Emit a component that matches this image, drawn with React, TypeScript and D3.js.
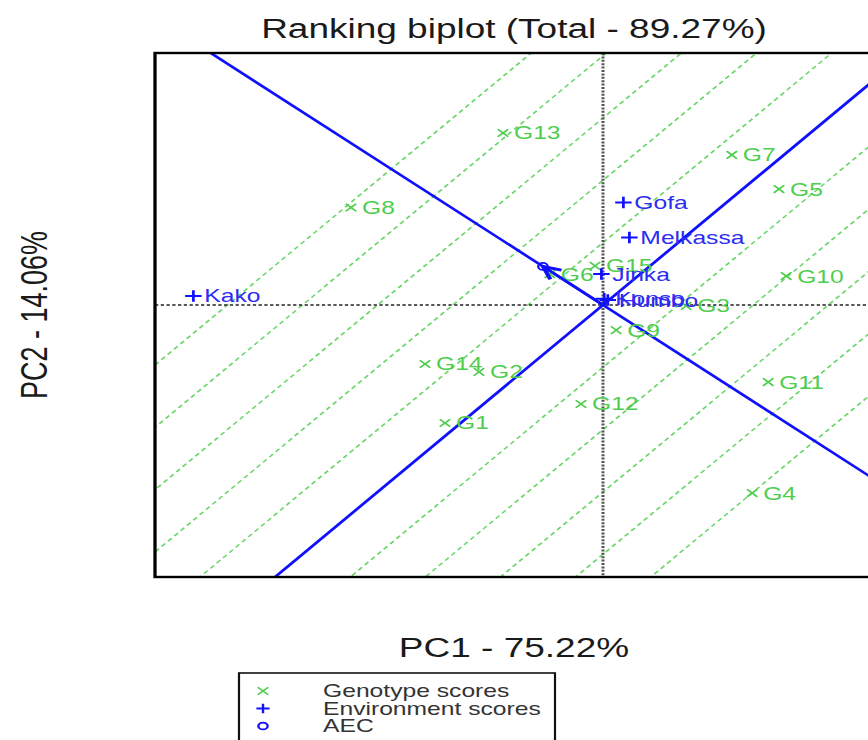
import React from "react";
import * as d3 from "d3";

// ---------- data ----------
const genotypes = ["G1", "G2", "G3", "G4", "G5", "G6", "G7", "G8", "G9", "G10", "G11", "G12", "G13", "G14", "G15"];
const genoPC1 = [-3.95, -3.1, 2.08, 3.73, 4.4, -1.33, 3.22, -6.3, 0.33, 4.58, 4.13, -0.55, -2.5, -4.45, -0.2];
const genoPC2 = [-4.04, -2.29, -0.03, -6.44, 3.97, 1.06, 5.14, 3.34, -0.86, 0.99, -2.64, -3.39, 5.89, -2.02, 1.34];

const environments = ["Gofa", "Humbo", "Jinka", "Kako", "Konso", "Melkassa"];
const envPC1 = [0.51, 0.12, -0.04, -10.24, 0.03, 0.66];
const envPC2 = [3.51, 0.17, 1.06, 0.31, 0.21, 2.31];

const aecPC1 = -1.5;
const aecPC2 = 1.32;

const contourIndex = [-5, -4, -3, -2, -1, 0, 1, 2, 3, 4, 5];
const contourStep = 1.41;

const xDomain = [-11.2, 6.75];
const yDomain = [-9.315, 8.63];

const title = "Ranking biplot (Total - 89.27%)";
const xLabel = "PC1 - 75.22%";
const yLabel = "PC2 - 14.06%";
const legendLabels = ["Genotype scores", "Environment scores", "AEC"];

// ---------- layout ----------
const W = 868;
const H = 740;
const SX = 1.37; // horizontal stretch of the original picture
const FONT = "'Liberation Sans', Arial, Helvetica, sans-serif";
const GREEN = "#4fcd4f";
const GREEN_LINE = "#6ad66a";
const BLUE = "#1010ff";
const BLUE_TEXT = "#2c2cf2";

export default function App() {
  const left = 155 / SX;
  const right = 873 / SX;
  const top = 53;
  const bottom = 577;

  const x = d3.scaleLinear().domain(xDomain).range([left, right]);
  const y = d3.scaleLinear().domain(yDomain).range([bottom, top]);

  const len = Math.hypot(aecPC1, aecPC2);
  const ux = aecPC1 / len;
  const uy = aecPC2 / len;
  const px = -uy;
  const py = ux;
  const far = 60;

  const line = d3.line<[number, number]>().x((d) => x(d[0])).y((d) => y(d[1]));

  const abscissa = line([
    [-ux * far, -uy * far],
    [ux * far, uy * far],
  ]);
  const ordinate = line([
    [-px * far, -py * far],
    [px * far, py * far],
  ]);

  const contours = contourIndex.map((k) => {
    const cx = ux * k * contourStep;
    const cy = uy * k * contourStep;
    return line([
      [cx - px * far, cy - py * far],
      [cx + px * far, cy + py * far],
    ]);
  });

  // arrow from origin to AEC point
  const ax0 = x(0);
  const ay0 = y(0);
  const ax1 = x(aecPC1);
  const ay1 = y(aecPC2);
  const ang = Math.atan2(ay1 - ay0, ax1 - ax0);
  const headLen = 14;
  const headAng = (26 * Math.PI) / 180;
  const h1 = [ax1 - headLen * Math.cos(ang - headAng), ay1 - headLen * Math.sin(ang - headAng)];
  const h2 = [ax1 - headLen * Math.cos(ang + headAng), ay1 - headLen * Math.sin(ang + headAng)];

  const xMark = "M-3.8,-3.8L3.8,3.8M-3.8,3.8L3.8,-3.8";
  const plusMark = "M-6,0H6M0,-5.8V5.8";

  const legX = 239 / SX;
  const legW = (555 - 239) / SX;
  const legSymX = 263 / SX;
  const legTextX = 323 / SX;
  const legRows = [691, 708.5, 726];

  return (
    <svg
      width={W}
      height={H}
      style={{ position: "absolute", left: 0, top: 0, background: "#fff" }}
      fontFamily={FONT}
    >
      <defs>
        <clipPath id="plotClip">
          <rect x={left} y={top} width={right - left} height={bottom - top} />
        </clipPath>
      </defs>
      <rect x={0} y={0} width={W} height={H} fill="#fff" />
      <g transform={`scale(${SX},1)`}>
        <g clipPath="url(#plotClip)">
          {contours.map((d, i) => (
            <path key={i} d={d || ""} fill="none" stroke={GREEN_LINE} strokeWidth={1.4} strokeDasharray="4,3" />
          ))}
          <line x1={x(0)} x2={x(0)} y1={top} y2={bottom} stroke="#555" strokeWidth={2.2} strokeDasharray="2,1.4" />
          <line x1={left} x2={right} y1={y(0)} y2={y(0)} stroke="#222" strokeWidth={1.7} strokeDasharray="2.4,1.8" />
          <path d={abscissa || ""} fill="none" stroke={BLUE} strokeWidth={2.4} />
          <path d={ordinate || ""} fill="none" stroke={BLUE} strokeWidth={2.4} />
        </g>

        {genotypes.map((g, i) => (
          <g key={g} transform={`translate(${x(genoPC1[i])},${y(genoPC2[i])})`}>
            <path d={xMark} stroke={GREEN} strokeWidth={1.5} fill="none" />
            <text x={8} dy="0.36em" fontSize={18} fill={GREEN}>
              {g}
            </text>
          </g>
        ))}

        {environments.map((e, i) => (
          <g key={e} transform={`translate(${x(envPC1[i])},${y(envPC2[i])})`}>
            <path d={plusMark} stroke={BLUE} strokeWidth={2} fill="none" />
            <text x={8} dy="0.36em" fontSize={18} fill={BLUE_TEXT}>
              {e}
            </text>
          </g>
        ))}

        <line x1={ax0} y1={ay0} x2={ax1} y2={ay1} stroke={BLUE} strokeWidth={2.4} />
        <path
          d={`M${h1[0]},${h1[1]}L${ax1},${ay1}L${h2[0]},${h2[1]}`}
          fill="none"
          stroke={BLUE}
          strokeWidth={3}
          strokeLinejoin="miter"
        />
        <circle cx={ax1} cy={ay1} r={3.5} fill="none" stroke={BLUE} strokeWidth={1.7} />

        <rect x={left} y={top} width={right - left} height={bottom - top} fill="none" stroke="#000" strokeWidth={2.4} />

        <text x={(left + right) / 2} y={38} textAnchor="middle" fontSize={27} fill="#1a1a1a">
          {title}
        </text>
        <text x={(left + right) / 2} y={657} textAnchor="middle" fontSize={27} fill="#1a1a1a">
          {xLabel}
        </text>
        <text
          transform={`translate(34.3,${(top + bottom) / 2}) rotate(-90)`}
          textAnchor="middle"
          fontSize={27}
          fill="#1a1a1a"
        >
          {yLabel}
        </text>

        <rect x={legX} y={673} width={legW} height={90} fill="none" stroke="#111" strokeWidth={1.6} />
        <path d={xMark} transform={`translate(${legSymX},${legRows[0]})`} stroke={GREEN} strokeWidth={1.4} fill="none" />
        <path d={plusMark} transform={`translate(${legSymX},${legRows[1]}) scale(0.8)`} stroke={BLUE} strokeWidth={2.2} fill="none" />
        <circle cx={legSymX} cy={legRows[2]} r={3.4} fill="none" stroke={BLUE} strokeWidth={1.7} />
        {legendLabels.map((t, i) => (
          <text key={t} x={legTextX} y={legRows[i]} dy="0.36em" fontSize={18} fill="#333">
            {t}
          </text>
        ))}
      </g>
    </svg>
  );
}
